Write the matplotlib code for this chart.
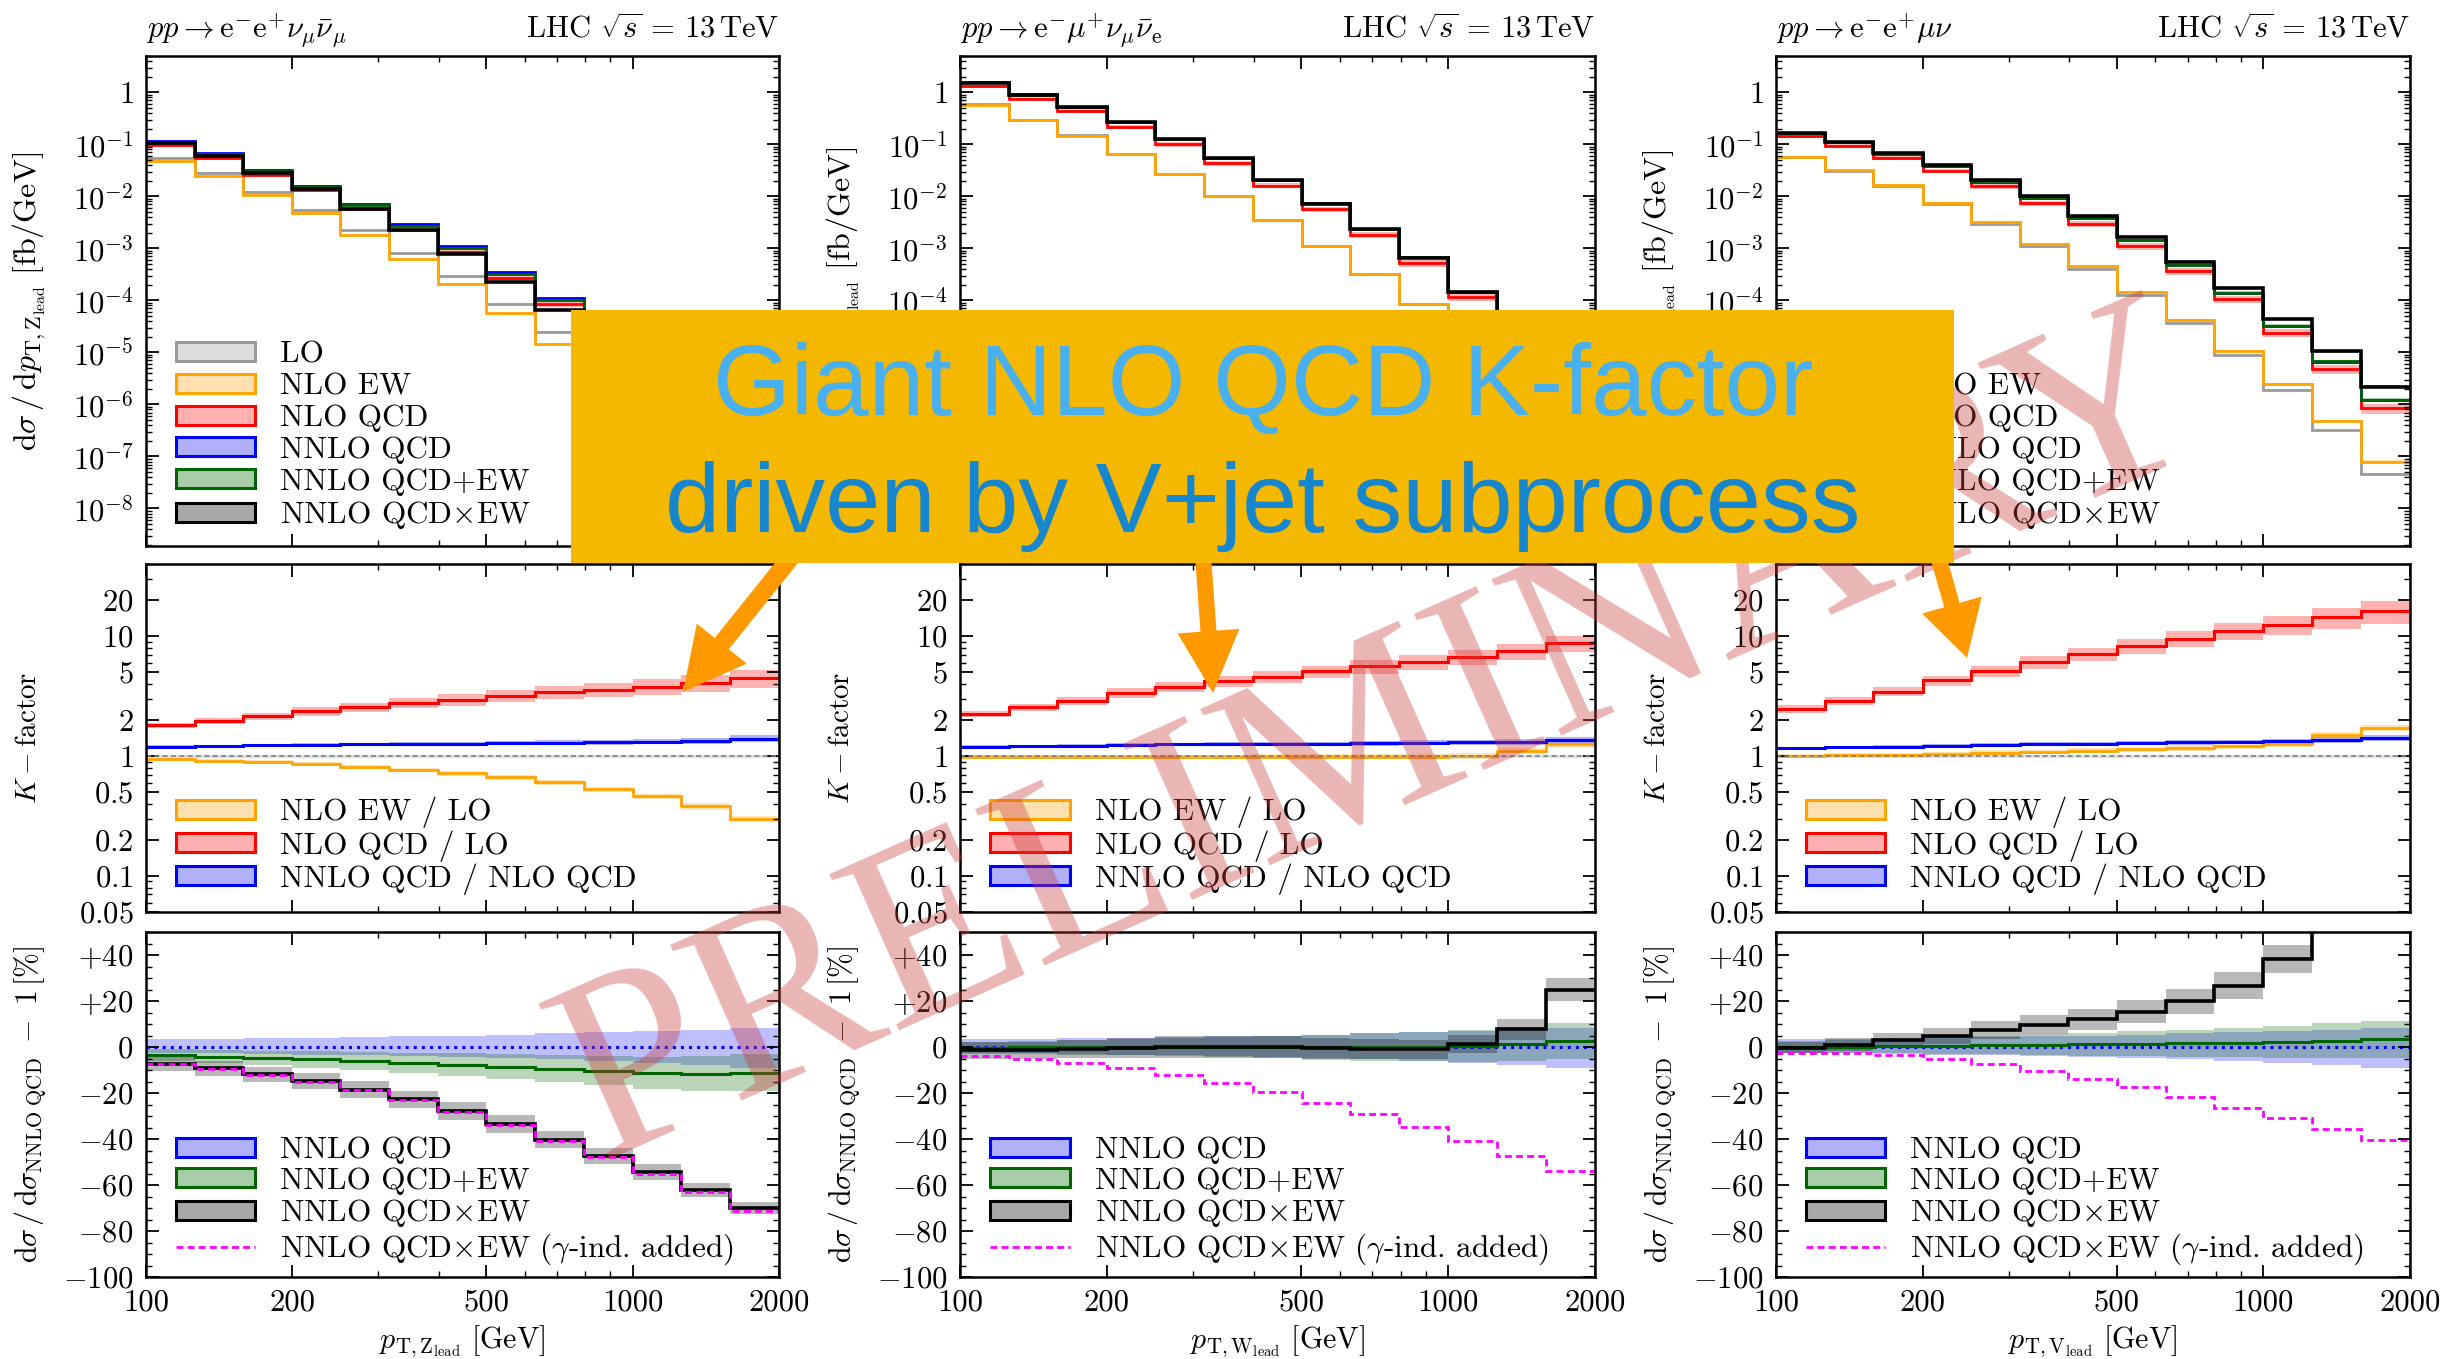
import numpy as np
import matplotlib
matplotlib.use("Agg")
import matplotlib.pyplot as plt
from matplotlib.patches import Patch, Rectangle, FancyArrow
from matplotlib.lines import Line2D
from matplotlib.ticker import FixedLocator, FixedFormatter, NullFormatter, LogLocator, MultipleLocator

plt.rcParams['font.family'] = 'serif'
plt.rcParams['font.serif'] = ['cmr10', 'DejaVu Serif']
plt.rcParams['mathtext.fontset'] = 'cm'
plt.rcParams['axes.formatter.use_mathtext'] = True

# ---------------- data ----------------
bin_edges = [100, 126, 158, 200, 251, 316, 398, 501, 631, 794, 1000, 1259, 1585, 2000]

# top panels: d sigma / d pT  [fb/GeV]
zz_lo = [5.4e-2, 2.8e-2, 1.21e-2, 5.5e-3, 2.23e-3, 8.3e-4, 2.9e-4, 8.6e-5, 2.5e-5, 7.0e-6, 1.9e-6, 5.0e-7, 1.2e-7]
zz_nlo_ew = [4.8e-2, 2.49e-2, 1.08e-2, 4.7e-3, 1.84e-3, 6.3e-4, 2.05e-4, 5.7e-5, 1.45e-5, 3.6e-6, 8.5e-7, 1.9e-7, 3.6e-8]
zz_nlo_qcd = [9.8e-2, 5.5e-2, 2.6e-2, 1.30e-2, 5.7e-3, 2.3e-3, 8.6e-4, 2.75e-4, 8.5e-5, 2.5e-5, 7.2e-6, 2.0e-6, 5.4e-7]
zz_nnlo = [1.17e-1, 6.7e-2, 3.2e-2, 1.61e-2, 7.1e-3, 2.9e-3, 1.09e-3, 3.5e-4, 1.1e-4, 3.25e-5, 9.5e-6, 2.7e-6, 7.6e-7]
zz_nnlo_plus = [1.13e-1, 6.4e-2, 3.05e-2, 1.52e-2, 6.7e-3, 2.7e-3, 1.0e-3, 3.2e-4, 1.0e-4, 2.9e-5, 8.4e-6, 2.4e-6, 6.7e-7]
zz_nnlo_times = [1.08e-1, 6.1e-2, 2.8e-2, 1.37e-2, 5.8e-3, 2.24e-3, 7.9e-4, 2.3e-4, 6.6e-5, 1.7e-5, 4.3e-6, 1.0e-6, 2.3e-7]

ww_lo = [5.85e-1, 2.93e-1, 1.5e-1, 6.5e-2, 2.66e-2, 1.04e-2, 3.5e-3, 1.13e-3, 3.25e-4, 8.5e-5, 1.75e-5, 4.4e-6, 1.05e-6]
ww_nlo_ew = [5.78e-1, 2.9e-1, 1.48e-1, 6.45e-2, 2.64e-2, 1.03e-2, 3.46e-3, 1.12e-3, 3.2e-4, 8.4e-5, 1.75e-5, 4.8e-6, 1.3e-6]
ww_nlo_qcd = [1.31, 7.5e-1, 4.35e-1, 2.18e-1, 1.01e-1, 4.37e-2, 1.61e-2, 5.7e-3, 1.82e-3, 5.2e-4, 1.15e-4, 3.3e-5, 9.0e-6]
ww_nnlo = [1.56, 9.1e-1, 5.3e-1, 2.7e-1, 1.26e-1, 5.5e-2, 2.04e-2, 7.3e-3, 2.33e-3, 6.7e-4, 1.45e-4, 4.2e-5, 1.2e-5]
ww_nnlo_plus = [1.55, 9.05e-1, 5.28e-1, 2.7e-1, 1.26e-1, 5.5e-2, 2.04e-2, 7.3e-3, 2.33e-3, 6.7e-4, 1.46e-4, 4.25e-5, 1.23e-5]
ww_nnlo_times = [1.54, 9.0e-1, 5.25e-1, 2.68e-1, 1.26e-1, 5.5e-2, 2.04e-2, 7.25e-3, 2.31e-3, 6.6e-4, 1.47e-4, 4.5e-5, 1.5e-5]

wz_lo = [5.72e-2, 3.13e-2, 1.6e-2, 7.2e-3, 3.0e-3, 1.12e-3, 4.05e-4, 1.26e-4, 3.6e-5, 8.9e-6, 1.93e-6, 3.2e-7, 4.6e-8]
wz_nlo_ew = [5.78e-2, 3.19e-2, 1.65e-2, 7.6e-3, 3.2e-3, 1.22e-3, 4.5e-4, 1.44e-4, 4.2e-5, 1.08e-5, 2.45e-6, 4.8e-7, 8.0e-8]
wz_nlo_qcd = [1.45e-1, 9.3e-2, 5.5e-2, 3.1e-2, 1.55e-2, 7.4e-3, 3.0e-3, 1.1e-3, 3.6e-4, 1.05e-4, 2.4e-5, 4.8e-6, 8.5e-7]
wz_nnlo = [1.69e-1, 1.1e-1, 6.6e-2, 3.8e-2, 1.93e-2, 9.3e-3, 3.8e-3, 1.42e-3, 4.7e-4, 1.38e-4, 3.2e-5, 6.5e-6, 1.2e-6]
wz_nnlo_plus = [1.69e-1, 1.1e-1, 6.63e-2, 3.82e-2, 1.95e-2, 9.4e-3, 3.85e-3, 1.44e-3, 4.77e-4, 1.41e-4, 3.27e-5, 6.7e-6, 1.24e-6]
wz_nnlo_times = [1.68e-1, 1.11e-1, 6.8e-2, 3.98e-2, 2.07e-2, 1.02e-2, 4.26e-3, 1.64e-3, 5.6e-4, 1.75e-4, 4.4e-5, 1.05e-5, 2.2e-6]

# middle panels: K-factors
zz_k_ew = [0.937, 0.914, 0.89, 0.857, 0.81, 0.77, 0.72, 0.666, 0.605, 0.53, 0.46, 0.38, 0.30]
zz_k_qcd = [1.81, 1.97, 2.14, 2.36, 2.55, 2.77, 2.96, 3.19, 3.41, 3.59, 3.80, 4.05, 4.47]
zz_k_nnlo = [1.19, 1.21, 1.23, 1.24, 1.25, 1.26, 1.27, 1.28, 1.29, 1.30, 1.32, 1.34, 1.40]
ww_k_ew = [0.99, 0.99, 0.99, 0.99, 0.99, 0.99, 0.99, 0.99, 0.99, 0.99, 1.0, 1.10, 1.25]
ww_k_qcd = [2.24, 2.55, 2.90, 3.36, 3.80, 4.20, 4.60, 5.08, 5.60, 6.10, 6.70, 7.50, 8.70]
ww_k_nnlo = [1.19, 1.21, 1.22, 1.24, 1.25, 1.26, 1.27, 1.27, 1.28, 1.29, 1.30, 1.31, 1.35]
wz_k_ew = [1.01, 1.02, 1.03, 1.05, 1.07, 1.09, 1.11, 1.14, 1.17, 1.21, 1.27, 1.50, 1.72]
wz_k_qcd = [2.47, 2.90, 3.45, 4.27, 5.10, 6.10, 7.10, 8.25, 9.55, 11.0, 12.5, 14.4, 16.2]
wz_k_nnlo = [1.16, 1.18, 1.20, 1.22, 1.24, 1.26, 1.27, 1.28, 1.30, 1.31, 1.33, 1.36, 1.41]

# relative uncertainties (fractions)
unc_lo = [0.03, 0.03, 0.03, 0.03, 0.03, 0.03, 0.03, 0.03, 0.03, 0.03, 0.03, 0.03, 0.03]
unc_ew = [0.03, 0.03, 0.035, 0.035, 0.04, 0.04, 0.045, 0.045, 0.05, 0.05, 0.055, 0.06, 0.06]
zz_unc_qcd = [0.05, 0.06, 0.07, 0.08, 0.09, 0.10, 0.11, 0.12, 0.13, 0.14, 0.15, 0.16, 0.17]
ww_unc_qcd = [0.06, 0.07, 0.08, 0.09, 0.10, 0.11, 0.11, 0.12, 0.13, 0.14, 0.14, 0.15, 0.16]
wz_unc_qcd = [0.07, 0.08, 0.09, 0.10, 0.11, 0.12, 0.13, 0.14, 0.15, 0.16, 0.18, 0.20, 0.22]
unc_nnlo_k = [0.03, 0.03, 0.03, 0.035, 0.035, 0.04, 0.04, 0.04, 0.045, 0.045, 0.05, 0.055, 0.06]

# bottom panels: d sigma / d sigma_NNLO QCD - 1  [%]
zz_d_plus = [-3.6, -4.2, -4.8, -5.4, -6.1, -6.8, -7.7, -8.6, -9.5, -10.3, -11.2, -11.6, -11.2]
zz_d_times = [-7.3, -9.2, -11.9, -14.8, -18.5, -22.8, -27.9, -33.5, -40.3, -47.3, -54.4, -62.3, -70.1]
zz_d_gamma = [-7.5, -9.5, -12.2, -15.1, -18.9, -23.2, -28.3, -33.9, -40.8, -47.9, -55.1, -63.0, -71.2]
ww_d_plus = [-0.3, -0.2, -0.1, 0.0, 0.1, 0.1, 0.0, -0.1, 0.0, 0.2, 0.6, 1.2, 2.6]
ww_d_times = [-1.5, -1.5, -0.9, -0.6, 0.0, 0.0, 0.0, -0.6, -1.0, -1.0, 1.2, 7.7, 24.9]
ww_d_gamma = [-3.9, -5.1, -6.8, -9.0, -12.2, -15.6, -19.6, -24.3, -29.1, -34.9, -41.0, -47.3, -54.1]
wz_d_plus = [0.0, 0.2, 0.4, 0.6, 0.8, 1.0, 1.2, 1.4, 1.6, 1.9, 2.2, 2.8, 3.4]
wz_d_times = [-0.3, 0.9, 3.1, 4.8, 7.3, 9.6, 12.1, 15.4, 19.9, 26.6, 38.3, 62.0, 85.0]
wz_d_gamma = [-2.5, -2.8, -3.6, -5.1, -7.6, -10.6, -14.0, -17.6, -21.7, -26.5, -31.0, -35.8, -40.6]

# band half-widths in the bottom panels [%]
nnlo_band_up = [3.5, 3.6, 3.8, 4.0, 4.3, 4.6, 5.0, 5.4, 5.9, 6.4, 7.0, 7.6, 8.3]
nnlo_band_dn = [2.5, 2.7, 3.0, 3.3, 3.6, 4.0, 4.4, 4.9, 5.4, 6.0, 6.8, 7.8, 9.0]
plus_band = [2.6, 2.9, 3.2, 3.6, 4.0, 4.4, 4.9, 5.4, 5.9, 6.4, 7.0, 7.5, 8.0]
zz_times_band = [3.0, 3.2, 3.4, 3.5, 3.6, 3.7, 3.8, 3.8, 3.8, 3.6, 3.4, 3.0, 2.6]
ww_times_band = [3.5, 3.8, 4.0, 4.3, 4.6, 4.8, 4.8, 4.6, 4.4, 4.0, 4.0, 4.5, 5.0]
wz_times_band = [2.5, 2.8, 3.0, 3.4, 3.8, 4.2, 4.6, 5.0, 5.4, 5.8, 6.2, 6.5, 7.0]

proc_titles = [r'$pp \rightarrow \mathrm{e}^{-}\mathrm{e}^{+}\nu_{\mu}\bar{\nu}_{\mu}$',
               r'$pp \rightarrow \mathrm{e}^{-}\mu^{+}\nu_{\mu}\bar{\nu}_{\mathrm{e}}$',
               r'$pp \rightarrow \mathrm{e}^{-}\mathrm{e}^{+}\mu\nu$']
boson_labels = ['Z', 'W', 'V']
x_ticks = [100, 200, 500, 1000, 2000]
x_ticklabels = ['100', '200', '500', '1000', '2000']
top_yticks = [1e-8, 1e-7, 1e-6, 1e-5, 1e-4, 1e-3, 1e-2, 1e-1, 1]
top_yticklabels = [r'$10^{-8}$', r'$10^{-7}$', r'$10^{-6}$', r'$10^{-5}$', r'$10^{-4}$',
                   r'$10^{-3}$', r'$10^{-2}$', r'$10^{-1}$', r'$1$']
k_yticks = [0.05, 0.1, 0.2, 0.5, 1, 2, 5, 10, 20]
k_yticklabels = [r'$0.05$', r'$0.1$', r'$0.2$', r'$0.5$', r'$1$', r'$2$', r'$5$', r'$10$', r'$20$']
d_yticks = [-100, -80, -60, -40, -20, 0, 20, 40]
d_yticklabels = [r'$-100$', r'$-80$', r'$-60$', r'$-40$', r'$-20$', r'$0$', r'$+20$', r'$+40$']

# ---------------- styling ----------------
C_LO, C_EW, C_QCD, C_NNLO, C_PLUS, C_TIMES, C_GAM = '#9a9a9a', '#FFA500', '#FF0000', '#0000FF', '#006400', '#000000', '#FF00FF'
FS = 22
W, H = 2464, 1359
lefts = [146, 960, 1776]
rights = [779, 1595, 2410]
rows = [(56, 546), (564, 912), (932, 1277)]
YLAB_X = -0.155

fig = plt.figure(figsize=(W / 100, H / 100), dpi=100)
fig.patch.set_facecolor('white')


def add_ax(c, r):
    t, b = rows[r]
    return fig.add_axes([lefts[c] / W, 1 - b / H, (rights[c] - lefts[c]) / W, (b - t) / H])


def style_ax(ax, bottom_row):
    ax.set_xscale('log')
    ax.set_xlim(100, 2000)
    ax.xaxis.set_major_locator(FixedLocator(x_ticks))
    ax.xaxis.set_minor_locator(FixedLocator([300, 400, 600, 700, 800, 900]))
    ax.xaxis.set_minor_formatter(NullFormatter())
    if bottom_row:
        ax.xaxis.set_major_formatter(FixedFormatter(x_ticklabels))
    else:
        ax.xaxis.set_major_formatter(NullFormatter())
    ax.tick_params(which='both', direction='in', top=True, right=True, labelsize=FS, pad=9)
    ax.tick_params(which='major', length=9, width=1.3)
    ax.tick_params(which='minor', length=4.5, width=1.0)
    for s in ax.spines.values():
        s.set_linewidth(1.8)


def band(ax, lo, hi, color, alpha):
    ax.stairs(hi, bin_edges, baseline=lo, fill=True, color=color, alpha=alpha, lw=0)


def line(ax, vals, color, lw=2.0, ls='-'):
    ax.stairs(vals, bin_edges, baseline=None, color=color, lw=lw, linestyle=ls)


def leg_patch(face, edge):
    return Patch(facecolor=face, edgecolor=edge, linewidth=2.2)


top_sets = [
    (zz_lo, zz_nlo_ew, zz_nlo_qcd, zz_nnlo, zz_nnlo_plus, zz_nnlo_times, zz_unc_qcd, zz_times_band),
    (ww_lo, ww_nlo_ew, ww_nlo_qcd, ww_nnlo, ww_nnlo_plus, ww_nnlo_times, ww_unc_qcd, ww_times_band),
    (wz_lo, wz_nlo_ew, wz_nlo_qcd, wz_nnlo, wz_nnlo_plus, wz_nnlo_times, wz_unc_qcd, wz_times_band),
]
k_sets = [(zz_k_ew, zz_k_qcd, zz_k_nnlo, zz_unc_qcd),
          (ww_k_ew, ww_k_qcd, ww_k_nnlo, ww_unc_qcd),
          (wz_k_ew, wz_k_qcd, wz_k_nnlo, wz_unc_qcd)]
d_sets = [(zz_d_plus, zz_d_times, zz_d_gamma, zz_times_band),
          (ww_d_plus, ww_d_times, ww_d_gamma, ww_times_band),
          (wz_d_plus, wz_d_times, wz_d_gamma, wz_times_band)]


def leg_kw(spacing=0.12):
    return dict(loc='lower left', frameon=False, fontsize=FS + 0.5, handlelength=2.55, handleheight=0.55,
                handletextpad=0.8, labelspacing=spacing, borderpad=0.0, borderaxespad=0.0)


for c in range(3):
    lo, ew, nlo, nnlo, plus, times, uq, tb = top_sets[c]
    lo, ew, nlo, nnlo, plus, times = map(np.array, (lo, ew, nlo, nnlo, plus, times))
    uq, tb = np.array(uq), np.array(tb) / 100
    ul, ue, un = np.array(unc_lo), np.array(unc_ew), np.array(unc_nnlo_k)
    pb = np.array(plus_band) / 100

    # ---- top panel ----
    ax = add_ax(c, 0)
    style_ax(ax, False)
    ax.set_yscale('log')
    ax.set_ylim(1.9e-9, 5.0)
    band(ax, lo * (1 - ul), lo * (1 + ul), C_LO, 0.35)
    band(ax, ew * (1 - ue), ew * (1 + ue), C_EW, 0.3)
    band(ax, nlo * (1 - uq), nlo * (1 + uq), C_QCD, 0.3)
    band(ax, nnlo * (1 - un), nnlo * (1 + un), C_NNLO, 0.3)
    band(ax, plus * (1 - pb), plus * (1 + pb), C_PLUS, 0.3)
    band(ax, times * (1 - tb), times * (1 + tb), C_TIMES, 0.3)
    line(ax, lo, C_LO, 2.0)
    line(ax, ew, C_EW, 2.0)
    line(ax, nlo, C_QCD, 2.0)
    line(ax, nnlo, C_NNLO, 2.0)
    line(ax, plus, C_PLUS, 2.0)
    line(ax, times, C_TIMES, 2.6)
    ax.yaxis.set_major_locator(FixedLocator(top_yticks))
    ax.yaxis.set_major_formatter(FixedFormatter(top_yticklabels))
    ax.yaxis.set_minor_locator(LogLocator(base=10, subs=np.arange(2, 10), numticks=30))
    ax.yaxis.set_minor_formatter(NullFormatter())
    ax.set_ylabel(r'$\mathrm{d}\sigma\,/\,\mathrm{d}p_{\mathrm{T},\mathrm{%s}_{\mathrm{lead}}}\ [\mathrm{fb}/\mathrm{GeV}]$' % boson_labels[c], fontsize=FS + 1)
    ax.yaxis.set_label_coords(YLAB_X, 0.5)
    ax.set_title(proc_titles[c], loc='left', fontsize=FS, pad=13)
    ax.set_title(r'LHC $\sqrt{s}\, =\, 13\,\mathrm{TeV}$', loc='right', fontsize=FS, pad=13)
    handles = [leg_patch('#dcdcdc', C_LO), leg_patch('#FFE0B0', C_EW), leg_patch('#FFB0B0', C_QCD),
               leg_patch('#B0B0F8', C_NNLO), leg_patch('#A8CCA8', C_PLUS), leg_patch('#A8A8A8', C_TIMES)]
    labels = ['LO', 'NLO EW', 'NLO QCD', 'NNLO QCD', 'NNLO QCD+EW', r'NNLO QCD$\times$EW']
    ax.legend(handles, labels, bbox_to_anchor=(0.047, 0.03), **leg_kw())

    # ---- K-factor panel ----
    kew, kq, kn, kuq = map(np.array, k_sets[c])
    ax = add_ax(c, 1)
    style_ax(ax, False)
    ax.set_yscale('log')
    ax.set_ylim(0.05, 40)
    ax.axhspan(1 - 0.03, 1 + 0.03, color=C_LO, alpha=0.3, lw=0)
    ax.axhline(1, color='#808080', lw=1.2, ls=(0, (3, 2)))
    band(ax, kew * (1 - ue), kew * (1 + ue), C_EW, 0.3)
    band(ax, kq * (1 - kuq), kq * (1 + kuq), C_QCD, 0.3)
    band(ax, kn * (1 - un), kn * (1 + un), C_NNLO, 0.3)
    line(ax, kew, C_EW, 2.0)
    line(ax, kq, C_QCD, 2.2)
    line(ax, kn, C_NNLO, 2.2)
    ax.yaxis.set_major_locator(FixedLocator(k_yticks))
    ax.yaxis.set_major_formatter(FixedFormatter(k_yticklabels))
    ax.yaxis.set_minor_locator(LogLocator(base=10, subs=np.arange(1, 10), numticks=30))
    ax.yaxis.set_minor_formatter(NullFormatter())
    ax.set_ylabel(r'$K-\mathrm{factor}$', fontsize=FS - 1)
    ax.yaxis.set_label_coords(YLAB_X - 0.01, 0.5)
    handles = [leg_patch('#FFE0B0', C_EW), leg_patch('#FFB0B0', C_QCD), leg_patch('#B0B0F8', C_NNLO)]
    labels = ['NLO EW / LO', 'NLO QCD / LO', 'NNLO QCD / NLO QCD']
    ax.legend(handles, labels, bbox_to_anchor=(0.047, 0.05), **leg_kw(0.05))

    # ---- relative panel ----
    dp, dt, dg, dtb = map(np.array, d_sets[c])
    zero = np.zeros(len(dp))
    ax = add_ax(c, 2)
    style_ax(ax, True)
    ax.set_ylim(-100, 50)
    band(ax, zero - np.array(nnlo_band_dn), zero + np.array(nnlo_band_up), C_NNLO, 0.25)
    band(ax, dp - np.array(plus_band), dp + np.array(plus_band), C_PLUS, 0.27)
    band(ax, dt - dtb, dt + dtb, C_TIMES, 0.28)
    line(ax, zero, C_NNLO, 2.2, ':')
    line(ax, dp, C_PLUS, 2.2)
    line(ax, dt, C_TIMES, 2.6)
    line(ax, dg, C_GAM, 2.0, (0, (2.5, 1.5)))
    ax.yaxis.set_major_locator(FixedLocator(d_yticks))
    ax.yaxis.set_major_formatter(FixedFormatter(d_yticklabels))
    ax.yaxis.set_minor_locator(MultipleLocator(5))
    ax.set_ylabel(r'$\mathrm{d}\sigma\,/\,\mathrm{d}\sigma_{\mathrm{NNLO\ QCD}}\ -\ 1\,[\%]$', fontsize=FS - 0.5)
    ax.yaxis.set_label_coords(YLAB_X, 0.5)
    ax.set_xlabel(r'$p_{\mathrm{T},\mathrm{%s}_{\mathrm{lead}}}\ [\mathrm{GeV}]$' % boson_labels[c], fontsize=FS - 0.5)
    ax.xaxis.set_label_coords(0.5, -0.135)
    handles = [leg_patch('#B0B0F8', C_NNLO), leg_patch('#A8CCA8', C_PLUS), leg_patch('#A8A8A8', C_TIMES),
               Line2D([], [], color=C_GAM, lw=2.0, ls=(0, (2.5, 1.5)))]
    labels = ['NNLO QCD', 'NNLO QCD+EW', r'NNLO QCD$\times$EW', r'NNLO QCD$\times$EW ($\gamma$-ind. added)']
    ax.legend(handles, labels, bbox_to_anchor=(0.047, 0.028), **leg_kw(0.08))

# ---------------- overlay (annotation) ----------------
ov = fig.add_axes([0, 0, 1, 1], zorder=20)
ov.set_xlim(0, W)
ov.set_ylim(H, 0)
ov.axis('off')
ov.patch.set_alpha(0)
ov.text(600, 1160, 'PRELIMINARY', rotation=24, rotation_mode='anchor', ha='left', va='baseline',
        fontsize=188, family='Liberation Serif', color='#C83C3C', alpha=0.38, zorder=1)
arrow_kw = dict(length_includes_head=True, color='#FF9900', lw=0, zorder=2)
ov.add_patch(FancyArrow(792, 556, 683 - 792, 692 - 556, width=18, head_width=64, head_length=62, **arrow_kw))
ov.add_patch(FancyArrow(1203, 556, 10, 693 - 556, width=16, head_width=62, head_length=62, **arrow_kw))
ov.add_patch(FancyArrow(1938, 556, 1967 - 1938, 658 - 556, width=16, head_width=62, head_length=55, **arrow_kw))
ov.add_patch(Rectangle((571, 310), 1954 - 571, 563 - 310, facecolor='#F5B800', edgecolor='none', zorder=3))
ov.text(1263, 415, 'Giant NLO QCD K-factor', ha='center', va='baseline', fontsize=72,
        family='Liberation Sans', color='#48B0EE', zorder=4)
ov.text(1263, 532, 'driven by V+jet subprocess', ha='center', va='baseline', fontsize=71.5,
        family='Liberation Sans', color='#1686CF', zorder=4)

fig.savefig('out.png', dpi=100)
